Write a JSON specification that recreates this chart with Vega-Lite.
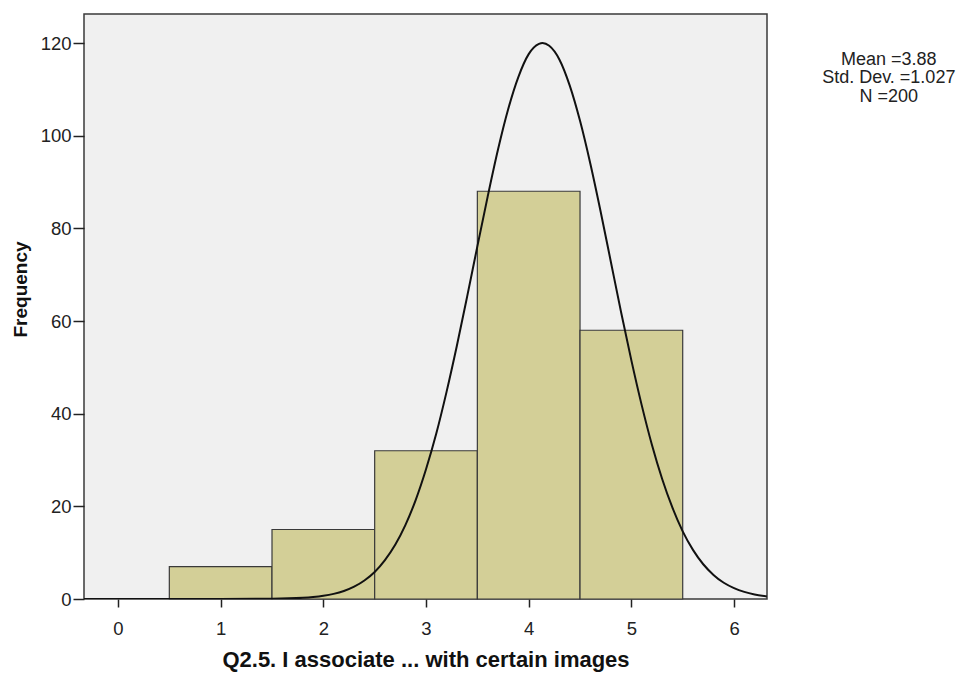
{
  "$schema": "https://vega.github.io/schema/vega-lite/v6.json",
  "width": 683,
  "height": 585,
  "autosize": {"type": "none"},
  "padding": {"left": 84, "top": 14, "right": 195, "bottom": 76},
  "background": "#ffffff",
  "config": {
    "view": {"stroke": "#3a3a3a", "strokeWidth": 1.5, "fill": "#f0f0f0"},
    "font": "Liberation Sans",
    "axis": {
      "domain": false,
      "grid": false,
      "tickColor": "#222222",
      "tickWidth": 1.5,
      "labelColor": "#222222",
      "labelFont": "Liberation Sans",
      "labelFontSize": 18.5,
      "titleFont": "Liberation Sans",
      "titleFontWeight": "bold",
      "titleColor": "#111111"
    }
  },
  "datasets": {
    "bars": [
      {"value": 1, "lo": 0.5, "hi": 1.5, "count": 7},
      {"value": 2, "lo": 1.5, "hi": 2.5, "count": 15},
      {"value": 3, "lo": 2.5, "hi": 3.5, "count": 32},
      {"value": 4, "lo": 3.5, "hi": 4.5, "count": 88},
      {"value": 5, "lo": 4.5, "hi": 5.5, "count": 58}
    ],
    "curve": [
      {"x": -0.33, "y": 0},
      {"x": 1.0, "y": 0},
      {"x": 1.5, "y": 0.05},
      {"x": 1.8, "y": 0.25},
      {"x": 1.9, "y": 0.42},
      {"x": 2.0, "y": 0.69},
      {"x": 2.1, "y": 1.11},
      {"x": 2.2, "y": 1.74},
      {"x": 2.3, "y": 2.67},
      {"x": 2.4, "y": 4.0},
      {"x": 2.5, "y": 5.84},
      {"x": 2.6, "y": 8.4},
      {"x": 2.7, "y": 11.7},
      {"x": 2.8, "y": 16.0},
      {"x": 2.9, "y": 21.4},
      {"x": 3.0, "y": 28.0},
      {"x": 3.1, "y": 35.7},
      {"x": 3.2, "y": 44.7},
      {"x": 3.3, "y": 54.6},
      {"x": 3.4, "y": 65.2},
      {"x": 3.5, "y": 76.1},
      {"x": 3.6, "y": 86.8},
      {"x": 3.7, "y": 96.9},
      {"x": 3.8, "y": 105.7},
      {"x": 3.9, "y": 112.7},
      {"x": 4.0, "y": 117.6},
      {"x": 4.1, "y": 119.8},
      {"x": 4.135, "y": 120.0},
      {"x": 4.2, "y": 119.4},
      {"x": 4.3, "y": 116.4},
      {"x": 4.4, "y": 110.8},
      {"x": 4.5, "y": 103.2},
      {"x": 4.6, "y": 94.0},
      {"x": 4.7, "y": 83.7},
      {"x": 4.8, "y": 72.8},
      {"x": 4.9, "y": 61.9},
      {"x": 5.0, "y": 51.5},
      {"x": 5.1, "y": 41.9},
      {"x": 5.2, "y": 33.3},
      {"x": 5.3, "y": 25.9},
      {"x": 5.4, "y": 19.7},
      {"x": 5.5, "y": 14.6},
      {"x": 5.6, "y": 10.6},
      {"x": 5.7, "y": 7.5},
      {"x": 5.8, "y": 5.2},
      {"x": 5.9, "y": 3.5},
      {"x": 6.0, "y": 2.35},
      {"x": 6.1, "y": 1.53},
      {"x": 6.2, "y": 0.97},
      {"x": 6.32, "y": 0.54}
    ],
    "stats": [
      {"sx": 7.507, "sy": 115.3, "label": "Mean =3.88\nStd. Dev. =1.027\nN =200"}
    ]
  },
  "layer": [
    {
      "data": {"name": "bars"},
      "mark": {"type": "rect", "fill": "#d3cf97", "stroke": "#3a3a3a", "strokeWidth": 1.2},
      "encoding": {
        "x": {
          "field": "lo", "type": "quantitative",
          "scale": {"domain": [-0.331, 6.321], "nice": false, "zero": false},
          "axis": {
            "values": [0, 1, 2, 3, 4, 5, 6],
            "format": "d",
            "tickSize": 8,
            "labelPadding": 12,
            "title": "Q2.5. I associate ... with certain images",
            "titleFontSize": 22,
            "titlePadding": 12
          }
        },
        "x2": {"field": "hi"},
        "y": {
          "field": "count", "type": "quantitative",
          "scale": {"domain": [0, 126.26], "nice": false},
          "axis": {
            "values": [0, 20, 40, 60, 80, 100, 120],
            "tickSize": 11,
            "labelPadding": 2,
            "title": "Frequency",
            "titleFontSize": 19,
            "titleX": -64,
            "titleY": 275,
            "titleAlign": "center",
            "titleBaseline": "middle",
            "titleAngle": -90
          }
        },
        "y2": {"datum": 0}
      }
    },
    {
      "data": {"name": "curve"},
      "mark": {"type": "line", "color": "#111111", "strokeWidth": 2, "interpolate": "monotone", "clip": true},
      "encoding": {
        "x": {"field": "x", "type": "quantitative"},
        "y": {"field": "y", "type": "quantitative"}
      }
    },
    {
      "data": {"name": "stats"},
      "mark": {"type": "text", "align": "center", "baseline": "alphabetic", "fontSize": 18, "lineHeight": 18.5, "lineBreak": "\n", "color": "#222222", "font": "Liberation Sans"},
      "encoding": {
        "x": {"field": "sx", "type": "quantitative"},
        "y": {"field": "sy", "type": "quantitative"},
        "text": {"field": "label"}
      }
    }
  ]
}
